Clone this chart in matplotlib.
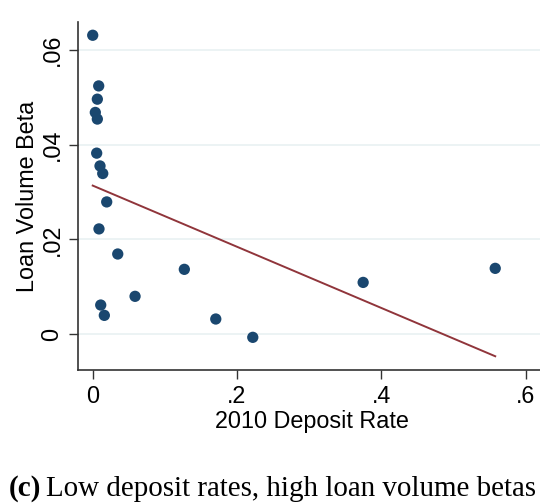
import numpy as np
import matplotlib
matplotlib.use("Agg")
import matplotlib.pyplot as plt

# 2010 deposit rate vs. loan volume beta, one dot per bank
deposit_rate = [0.0, 0.0083, 0.0064, 0.0036, 0.0064, 0.0055, 0.0101, 0.0139,
                0.0194, 0.0087, 0.0347, 0.127, 0.0587, 0.0111, 0.0161,
                0.1706, 0.2219, 0.3749, 0.558]
loan_beta = [0.0631, 0.0524, 0.0496, 0.0468, 0.0454, 0.0382, 0.0355, 0.0339,
             0.0279, 0.0222, 0.0169, 0.01366, 0.00796, 0.00612, 0.00394,
             0.00317, -0.0007, 0.0109, 0.01387]

# fitted line (intercept, slope)
fit_intercept = 0.03135
fit_slope = -0.0646

x_ticks = [0, 0.2, 0.4, 0.6]
x_tick_labels = ["0", ".2", ".4", ".6"]
y_ticks = [0, 0.02, 0.04, 0.06]
y_tick_labels = ["0", ".02", ".04", ".06"]

navy = "#1a476f"
maroon = "#90353b"

fig = plt.figure(figsize=(5.4, 5.04), dpi=100)
ax = fig.add_axes([78 / 540, 134 / 504, 467 / 540, 348 / 504])

x = np.array(deposit_rate)
y = np.array(loan_beta)

xs = np.array([x.min(), x.max()])
ax.plot(xs, fit_intercept + fit_slope * xs, color=maroon, lw=1.4, zorder=2)

ax.scatter(x, y, s=66, color=navy, edgecolors="none", zorder=3)

ax.set_xlim(-0.0204, 0.627)
ax.set_ylim(-0.0076, 0.0659)
ax.set_xticks(x_ticks)
ax.set_xticklabels(x_tick_labels)
ax.set_yticks(y_ticks)
ax.set_yticklabels(y_tick_labels, rotation=90, va="center")

ax.grid(axis="y", color="#eaf2f3", lw=1.3)
ax.set_axisbelow(True)
for side in ["top", "right"]:
    ax.spines[side].set_visible(False)
for side in ["left", "bottom"]:
    ax.spines[side].set_color("#333333")
    ax.spines[side].set_linewidth(1.2)

ax.tick_params(direction="out", length=6.5, width=1.0, color="#333333",
               labelsize=16.8, labelcolor="black", pad=4)
for lab in ax.get_xticklabels() + ax.get_yticklabels():
    lab.set_fontfamily("Liberation Sans")

ax.set_xlabel("2010 Deposit Rate", fontsize=16.8, family="Liberation Sans",
              labelpad=2)
ax.set_ylabel("Loan Volume Beta", fontsize=16.8, family="Liberation Sans",
              labelpad=1)

# caption below the panel
fig.text(9 / 540, 1 - 496 / 504, "(c)", fontsize=21, weight="bold",
         family="Liberation Serif", va="baseline")
fig.text(46 / 540, 1 - 496 / 504, "Low deposit rates, high loan volume betas",
         fontsize=20.9, family="Liberation Serif", va="baseline")

fig.savefig("out.png", dpi=100)
